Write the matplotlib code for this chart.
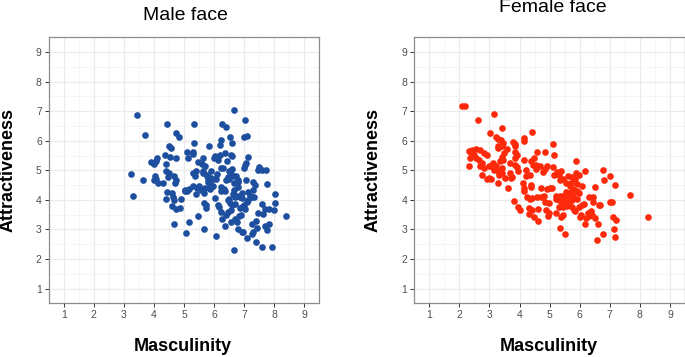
import matplotlib
matplotlib.use("Agg")
import matplotlib.pyplot as plt
import numpy as np

plt.rcParams['font.family'] = ['Liberation Sans', 'DejaVu Sans']

# Male face: masculinity (x) and attractiveness (y)
male_x = [3.45, 3.70, 3.25, 3.30, 3.65, 4.44, 4.75, 4.83, 5.34, 6.25, 6.39, 6.65, 7.04, 6.98, 7.10,
          6.54, 6.24, 6.58, 5.34, 4.51, 4.56, 5.84, 6.20, 6.35, 5.10, 5.31, 5.14, 5.29, 4.36, 4.55,
          4.75, 4.11, 4.08, 3.90, 4.00, 4.40, 4.40, 4.49, 4.02, 4.06, 3.99, 4.14, 4.30, 4.46, 4.66,
          4.75, 4.71, 4.44, 4.59, 4.40, 4.62, 4.66, 4.59, 4.72, 4.87, 4.90, 5.02, 5.15, 5.31, 5.42,
          5.29, 5.40, 5.35, 5.48, 5.63, 5.61, 5.70, 5.40, 5.60, 5.68, 5.71, 5.87, 5.96, 6.22, 6.04,
          6.24, 5.67, 5.72, 5.72, 6.12, 6.17, 5.65, 5.45, 5.05, 5.16, 4.66, 6.05, 5.63, 5.75, 5.90,
          5.79, 5.91, 6.06, 5.99, 6.04, 6.09, 6.13, 6.19, 6.24, 6.30, 6.44, 6.58, 6.55, 6.49, 6.55,
          6.64, 6.60, 6.73, 6.45, 6.50, 6.40, 6.67, 6.78, 6.78, 6.99, 7.05, 7.14, 7.04, 7.05, 7.29,
          7.35, 7.51, 7.58, 7.47, 7.72, 7.76, 8.04, 8.04, 8.00, 8.39, 7.60, 7.69, 7.62, 7.47, 7.82,
          7.70, 7.84, 7.77, 7.39, 7.42, 7.27, 7.31, 7.25, 7.09, 6.94, 7.39, 7.59, 7.94, 6.65, 6.75,
          6.84, 6.68, 6.91, 6.47, 6.55, 6.71, 6.85, 6.93, 6.98, 7.04, 7.11, 7.14, 7.19, 7.25, 7.33,
          7.13, 7.29, 6.68, 6.64, 6.75, 6.86, 6.94, 6.51, 6.45, 6.52, 6.58, 6.36, 6.32, 6.65, 6.93,
          6.79, 6.55, 6.26, 6.35, 6.24, 6.39, 6.80, 6.96, 5.02, 5.10, 5.50, 5.55, 5.62, 5.76, 5.80,
          5.95, 5.85, 6.10]
male_y = [6.86, 6.21, 4.86, 4.12, 4.67, 6.56, 6.25, 6.11, 6.56, 6.56, 6.47, 7.05, 6.70, 6.12, 6.16,
          6.11, 6.04, 5.91, 5.91, 5.81, 5.74, 5.81, 5.87, 5.60, 5.62, 5.62, 5.42, 5.54, 5.52, 5.46,
          5.41, 5.42, 5.33, 5.27, 5.23, 5.22, 4.98, 4.91, 4.81, 4.72, 4.67, 4.57, 4.56, 4.77, 4.80,
          4.68, 4.57, 4.27, 4.24, 4.02, 4.11, 4.00, 3.78, 3.69, 3.71, 4.02, 4.29, 4.38, 4.46, 4.41,
          4.91, 4.99, 4.80, 5.29, 5.41, 5.22, 5.15, 4.21, 4.36, 4.24, 4.41, 4.38, 4.47, 4.45, 4.05,
          4.29, 3.91, 3.84, 3.73, 3.81, 3.77, 3.02, 3.46, 2.87, 3.26, 3.18, 2.77, 4.99, 4.80, 4.97,
          4.69, 4.75, 4.69, 5.41, 5.48, 5.44, 5.35, 5.52, 5.09, 5.07, 5.30, 5.47, 5.52, 4.98, 4.88,
          4.80, 5.04, 4.82, 4.78, 4.69, 4.66, 4.58, 4.62, 4.45, 5.07, 5.26, 5.46, 5.19, 4.67, 4.60,
          4.51, 5.11, 5.02, 5.02, 5.00, 4.53, 4.20, 3.91, 3.67, 3.46, 3.87, 3.69, 3.52, 3.57, 3.69,
          3.13, 3.18, 2.98, 3.29, 3.05, 3.18, 2.92, 2.86, 2.71, 2.91, 2.58, 2.42, 2.42, 2.32, 3.26,
          3.45, 3.35, 3.48, 3.59, 3.67, 3.85, 3.74, 3.76, 3.84, 3.70, 3.92, 4.01, 4.14, 4.10, 4.10,
          4.25, 4.34, 4.09, 4.20, 4.13, 4.11, 4.05, 4.02, 3.98, 3.91, 3.81, 4.31, 4.38, 4.32, 4.23,
          3.02, 3.26, 3.34, 3.12, 3.59, 3.48, 4.68, 2.91, 4.35, 4.30, 4.48, 4.32, 4.90, 4.85, 4.62,
          4.70, 4.52, 4.88]

# Female face
female_x = [2.10, 2.17, 2.61, 3.16, 3.01, 3.41, 3.20, 3.27, 3.38, 3.45, 3.27, 3.29, 3.41, 3.59, 3.78,
            3.86, 3.86, 4.16, 4.16, 4.42, 2.31, 2.43, 2.56, 2.67, 2.81, 2.93, 2.49, 2.40, 2.56, 2.31,
            2.76, 2.82, 2.76, 2.91, 3.00, 3.06, 3.13, 3.21, 3.15, 3.27, 3.35, 3.42, 3.48, 3.46, 3.32,
            3.27, 3.43, 3.53, 3.62, 3.70, 3.76, 3.86, 3.90, 3.86, 3.84, 3.92, 3.94, 4.16, 4.20, 4.38,
            4.49, 4.57, 4.44, 4.55, 4.55, 4.68, 4.23, 4.36, 4.13, 4.14, 4.38, 4.38, 3.81, 3.94, 4.01,
            4.25, 4.36, 4.42, 4.31, 4.42, 4.48, 4.61, 4.32, 4.70, 4.81, 4.84, 4.90, 4.86, 5.11, 5.16,
            5.11, 5.00, 5.08, 4.72, 4.92, 4.86, 4.99, 4.87, 4.94, 4.97, 5.24, 5.30, 5.37, 5.46, 5.55,
            5.35, 5.20, 5.22, 5.30, 5.35, 5.45, 5.51, 5.57, 5.40, 5.46, 5.30, 5.37, 5.44, 5.35, 5.51,
            5.68, 5.76, 5.72, 5.84, 5.87, 5.96, 5.87, 5.70, 5.78, 5.63, 5.73, 5.80, 5.85, 5.90, 5.99,
            6.06, 6.17, 5.92, 5.99, 6.08, 6.15, 6.03, 6.02, 6.17, 6.21, 6.29, 6.39, 6.32, 6.43, 6.51,
            6.45, 6.63, 6.52, 6.62, 6.76, 6.56, 6.66, 6.77, 6.81, 7.02, 7.16, 7.00, 7.06, 7.11, 7.20,
            7.14, 7.16, 7.66, 8.26, 6.41, 6.30, 5.90, 5.15, 4.78, 4.16, 4.59, 3.68, 3.40, 3.68, 2.97,
            2.65, 2.34, 2.68, 3.06, 5.74, 5.61, 5.75, 5.58, 5.20, 4.61, 5.50, 5.60, 5.55, 5.65]
female_y = [7.17, 7.17, 6.70, 6.91, 6.26, 6.42, 6.12, 6.05, 6.01, 5.94, 5.81, 5.76, 5.81, 5.72, 5.95,
            5.90, 5.81, 6.10, 5.98, 6.31, 5.66, 5.68, 5.71, 5.68, 5.57, 5.51, 5.51, 5.57, 5.41, 5.16,
            5.24, 5.07, 4.85, 4.69, 4.73, 5.13, 5.24, 5.15, 5.02, 4.97, 5.33, 5.46, 5.57, 5.35, 4.84,
            4.56, 4.91, 4.75, 4.41, 4.73, 4.78, 5.62, 5.51, 5.41, 5.18, 5.11, 4.99, 5.35, 5.02, 5.33,
            5.43, 5.61, 5.18, 5.17, 5.05, 5.15, 4.80, 4.85, 4.56, 4.41, 4.51, 4.44, 3.97, 3.77, 3.67,
            4.11, 4.03, 4.05, 3.72, 3.67, 3.42, 3.28, 3.51, 4.08, 4.14, 5.05, 5.15, 5.62, 5.88, 5.51,
            5.11, 4.41, 4.41, 4.41, 4.38, 3.92, 3.89, 3.64, 3.45, 3.56, 4.93, 4.85, 4.96, 4.71, 4.56,
            4.67, 4.14, 4.03, 3.98, 4.14, 4.14, 4.03, 4.12, 3.86, 3.75, 3.75, 3.42, 3.48, 3.06, 2.86,
            4.47, 4.36, 4.58, 4.69, 4.91, 4.85, 5.32, 4.25, 4.14, 3.94, 3.75, 3.67, 3.61, 4.30, 4.23,
            4.47, 4.97, 4.03, 3.75, 3.81, 3.86, 3.48, 3.41, 3.17, 3.39, 3.56, 3.61, 4.11, 4.11, 4.45,
            3.92, 3.81, 3.37, 3.17, 2.85, 2.65, 3.81, 5.01, 4.67, 4.82, 4.51, 3.92, 3.92, 3.42, 3.31,
            3.01, 2.76, 4.16, 3.41, 3.50, 3.44, 4.53, 4.84, 4.93, 4.30, 4.11, 5.24, 5.07, 4.91, 5.13,
            5.35, 5.40, 5.13, 4.69, 4.77, 4.80, 4.00, 3.78, 3.56, 3.69, 4.00, 3.90, 4.25, 3.95]

ticks = [1, 2, 3, 4, 5, 6, 7, 8, 9]

W, H = 685, 357
fig = plt.figure(figsize=(W / 100, H / 100), dpi=100)

panels = [
    dict(rect=[48.7 / W, (H - 303.3) / H, 270.6 / W, 266 / H], x=male_x, y=male_y,
         color='#1D4F9E', title='Male face', tpos=(185.7, 15), ylab=8.5, xlab=183),
    dict(rect=[414.3 / W, (H - 303.3) / H, 270.7 / W, 266 / H], x=female_x, y=female_y,
         color='#FC2A0A', title='Female face', tpos=(553.3, 8), ylab=373.5, xlab=549),
]

for p in panels:
    ax = fig.add_axes(p['rect'])
    ax.set_xlim(0.6, 9.4)
    ax.set_ylim(0.6, 9.4)
    ax.set_xticks(ticks)
    ax.set_yticks(ticks)
    ax.set_xticks(np.arange(0.5, 9.6, 1.0), minor=True)
    ax.set_yticks(np.arange(0.5, 9.6, 1.0), minor=True)
    ax.set_xticklabels([str(t) for t in ticks])
    ax.set_yticklabels([str(t) for t in ticks])
    ax.grid(which='major', color='#EBEBEB', linewidth=0.9)
    ax.grid(which='minor', color='#F2F2F2', linewidth=0.5)
    ax.set_axisbelow(True)
    ax.tick_params(which='major', length=3, width=0.7, color='#333333',
                   labelsize=7.5, labelcolor='#4D4D4D', pad=2)
    ax.tick_params(which='minor', length=0)
    for s in ax.spines.values():
        s.set_color('#8C8C8C')
        s.set_linewidth(0.9)
    ax.scatter(p['x'], p['y'], s=23, color=p['color'], linewidths=0, zorder=3)
    fig.text(p['tpos'][0] / W, 1 - p['tpos'][1] / H, p['title'], ha='center', va='center',
             fontsize=14)
    fig.text(p['ylab'] / W, 1 - 170 / H, 'Attractiveness', rotation=90, ha='center',
             va='center', fontsize=13, fontweight='bold')
    fig.text(p['xlab'] / W, 1 - 346.5 / H, 'Masculinity', ha='center', va='center',
             fontsize=13, fontweight='bold')

fig.savefig('out.png', dpi=100, facecolor='white')
